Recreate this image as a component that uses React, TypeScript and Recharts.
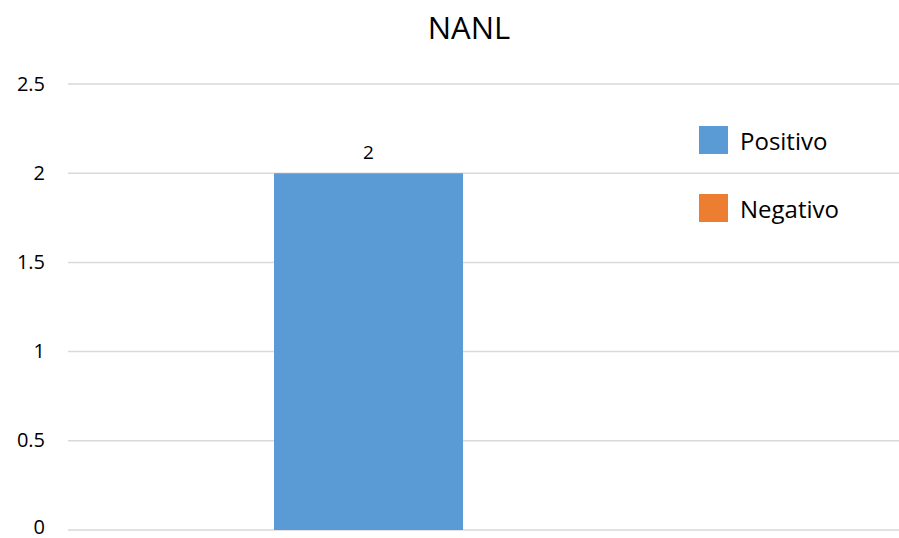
import { BarChart, Bar, XAxis, YAxis, CartesianGrid, Legend, LabelList } from "recharts";

const categories = ["NANL"];
const positivo = [2];
const negativo = [0];
const yTicks = [0, 0.5, 1, 1.5, 2, 2.5];

const series = [
  { key: "Positivo", color: "#5B9BD5" },
  { key: "Negativo", color: "#ED7D31" },
];

const data = categories.map((name, i) => ({
  name,
  Positivo: positivo[i],
  Negativo: negativo[i],
}));

const font = "'Open Sans', sans-serif";

function LegendBox() {
  return (
    <div style={{ fontFamily: font }}>
      {series.map((s) => (
        <div key={s.key} style={{ display: "flex", alignItems: "center", height: 68 }}>
          <span style={{ width: 29, height: 28, background: s.color, display: "inline-block", marginRight: 12 }} />
          <span style={{ fontSize: 24, color: "#000" }}>{s.key}</span>
        </div>
      ))}
    </div>
  );
}

// the bottom "0" sits on the chart's edge, nudge it up so it isn't clipped
function YTick({ x, y, payload }: any) {
  const shift = payload.value === 0 ? -4 : -1;
  return (
    <text x={x} y={y + shift} textAnchor="end" dominantBaseline="central" fontFamily={font} fontSize={20} fill="#000">
      {payload.value}
    </text>
  );
}

export default function App() {
  return (
    <div style={{ position: "absolute", left: 0, top: 0, width: 899, height: 538, background: "#fff" }}>
      <div
        style={{
          position: "absolute",
          left: 0,
          width: 938,
          top: 6,
          textAlign: "center",
          fontFamily: font,
          fontSize: 31,
          color: "#000",
        }}
      >
        NANL
      </div>
      <BarChart
        width={899}
        height={538}
        data={data}
        margin={{ top: 84, right: 0, bottom: 8, left: 0 }}
        barSize={189}
        barGap={41}
      >
        <CartesianGrid vertical={false} stroke="#d9d9d9" strokeWidth={1.5} />
        <XAxis dataKey="name" hide />
        <YAxis
          width={68}
          domain={[0, 2.5]}
          ticks={yTicks}
          interval={0}
          axisLine={false}
          tickLine={false}
          tickSize={0}
          tickMargin={23}
          tick={<YTick />}
        />
        <Legend
          content={<LegendBox />}
          layout="vertical"
          verticalAlign="middle"
          align="center"
          wrapperStyle={{ position: "absolute", left: 699, top: 106, width: 180 }}
        />
        <Bar dataKey="Positivo" fill="#5B9BD5" isAnimationActive={false}>
          <LabelList dataKey="Positivo" position="top" offset={14} style={{ fontFamily: font, fontSize: 19, fill: "#000" }} />
        </Bar>
        <Bar dataKey="Negativo" fill="#ED7D31" isAnimationActive={false} />
      </BarChart>
    </div>
  );
}
